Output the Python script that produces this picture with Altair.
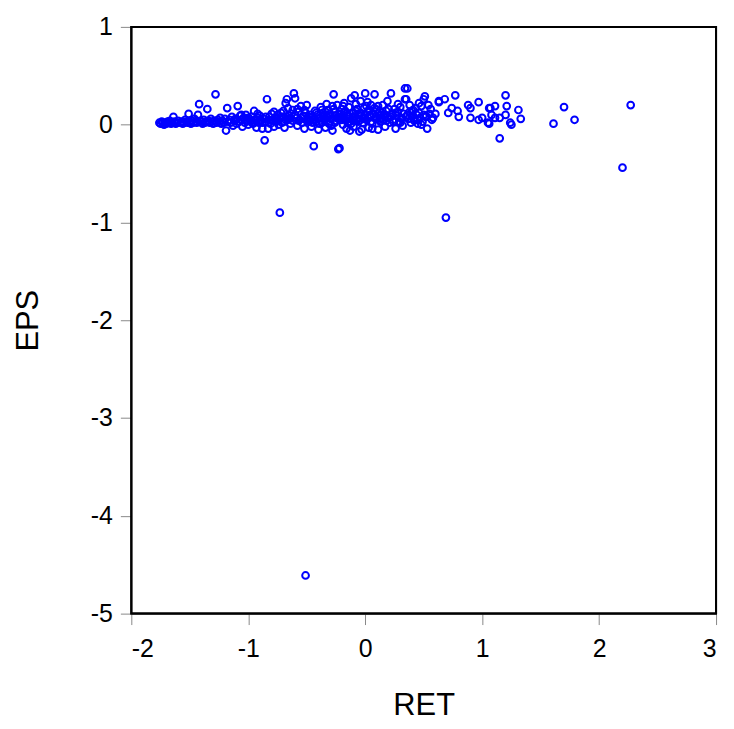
import altair as alt
import pandas as pd

# RET (x) and EPS (y) values
ret_values = [
    # left thin band
    -1.76, -1.75, -1.74, -1.73, -1.72, -1.71, -1.70, -1.69, -1.68, -1.67,
    -1.66, -1.65, -1.64, -1.63, -1.62, -1.61, -1.60, -1.58, -1.57, -1.56,
    -1.55, -1.54, -1.53, -1.52, -1.51, -1.50, -1.49, -1.48, -1.47, -1.46,
    -1.45, -1.44, -1.43, -1.42, -1.41, -1.40, -1.39, -1.38, -1.37, -1.36,
    -1.35, -1.34, -1.33, -1.32, -1.31, -1.30, -1.29, -1.28, -1.27, -1.26,
    -1.25, -1.24, -1.23, -1.22, -1.21, -1.20, -1.19, -1.18, -1.17, -1.16,
    # middle-left band
    -1.15, -1.14, -1.13, -1.12, -1.11, -1.10, -1.09, -1.08, -1.07, -1.06,
    -1.05, -1.04, -1.03, -1.02, -1.01, -1.00, -0.99, -0.98, -0.97, -0.96,
    -0.95, -0.94, -0.93, -0.92, -0.91, -0.90, -0.89, -0.88, -0.87, -0.86,
    -0.85, -0.84, -0.83, -0.82, -0.81, -0.80, -0.79, -0.78, -0.77, -0.76,
    -0.75, -0.74, -0.73, -0.72, -0.71, -0.70, -0.69, -0.68, -0.67, -0.66,
    -0.65, -0.64, -0.63, -0.62, -0.61, -0.60, -0.59, -0.58, -0.57, -0.56,
    -0.55, -0.54, -0.53, -0.52, -0.51, -0.50, -0.49, -0.48, -0.47, -0.46,
    -1.10, -1.00, -0.95, -0.90, -0.85, -0.80, -0.75, -0.70, -0.65, -0.60,
    -0.55, -0.50, -0.62, -0.70, -0.78, -0.92, -1.06, -0.66, -0.58, -0.52,
    # central dense band
    -0.45, -0.44, -0.43, -0.42, -0.41, -0.40, -0.39, -0.38, -0.37, -0.36,
    -0.35, -0.34, -0.33, -0.32, -0.31, -0.30, -0.29, -0.28, -0.27, -0.26,
    -0.25, -0.24, -0.23, -0.22, -0.21, -0.20, -0.19, -0.18, -0.17, -0.16,
    -0.15, -0.14, -0.13, -0.12, -0.11, -0.10, -0.09, -0.08, -0.07, -0.06,
    -0.05, -0.04, -0.03, -0.02, -0.01, 0.00, 0.01, 0.02, 0.03, 0.04,
    0.05, 0.06, 0.07, 0.08, 0.09, 0.10, 0.11, 0.12, 0.13, 0.14,
    -0.45, -0.40, -0.35, -0.30, -0.25, -0.20, -0.15, -0.10, -0.05, 0.00,
    -0.42, -0.37, -0.32, -0.27, -0.22, -0.17, -0.12, -0.07, -0.02, 0.03,
    -0.44, -0.39, -0.34, -0.29, -0.24, -0.19, -0.14, -0.09, -0.04, 0.01,
    -0.33, -0.18, -0.08, 0.02, -0.28, -0.13, -0.03, 0.06, 0.08, 0.11,
    -0.48, -0.43, -0.38, -0.31, -0.26, -0.21, -0.16, -0.11, -0.06, -0.01,
    0.04, 0.09, 0.12, 0.14, -0.36, -0.23, -0.10, 0.05, 0.10, 0.13,
    -0.98, -0.88, -0.82, -0.76, -0.72, -0.68, -0.64, -0.57, -0.53, -0.47,
    # right part of band
    0.15, 0.16, 0.17, 0.18, 0.19, 0.20, 0.21, 0.22, 0.23, 0.24,
    0.25, 0.26, 0.27, 0.28, 0.29, 0.30, 0.31, 0.32, 0.33, 0.34,
    0.34, 0.35, 0.36, 0.37, 0.38, 0.39, 0.40, 0.41, 0.42, 0.43,
    0.44, 0.45, 0.46, 0.47, 0.48, 0.49, 0.50, 0.51, 0.52, 0.53,
    0.54, 0.55, 0.56, 0.57, 0.58, 0.60, 0.18, 0.22, 0.26, 0.30,
    0.35, 0.40, 0.45, 0.50, 0.20, 0.28, 0.38, 0.46, 0.15, 0.48,
    0.17, 0.24, 0.31, 0.36, 0.42, 0.52,
    # sparse right tail
    0.63, 0.63, 0.68, 0.71, 0.74, 0.77, 0.79, 0.80, 0.88, 0.90,
    0.90, 0.97, 0.97, 1.00, 1.05, 1.06, 1.06, 1.07, 1.08, 1.11,
    1.11, 1.15, 1.15, 1.20, 1.20, 1.21, 1.24, 1.25, 1.31, 1.33,
    1.61, 1.70, 1.79, 2.27, 2.20,
    # outliers
    -0.51, -0.73, 0.69,
]

eps_values = [
    0.02, 0.01, 0.03, 0.02, 0.00, 0.02, 0.01, 0.03, 0.02, 0.04,
    0.01, 0.02, 0.08, 0.03, 0.01, 0.02, 0.04, 0.02, 0.03, 0.01,
    0.02, 0.05, 0.03, 0.02, 0.11, 0.03, 0.01, 0.04, 0.02, 0.06,
    0.03, 0.02, 0.10, 0.21, 0.04, 0.03, 0.01, 0.05, 0.02, 0.03,
    0.16, 0.04, 0.02, 0.06, 0.03, 0.01, 0.04, 0.31, 0.02, 0.05,
    0.03, 0.07, 0.01, 0.04, 0.02, 0.06, -0.06, 0.17, 0.03, 0.05,
    0.02, 0.08, -0.01, 0.04, 0.06, 0.01, 0.19, 0.03, 0.09, 0.05,
    -0.02, 0.07, 0.02, 0.10, 0.04, 0.00, 0.06, 0.03, 0.08, 0.01,
    0.14, 0.05, -0.03, 0.07, 0.02, 0.09, 0.04, -0.04, 0.06, -0.16,
    0.03, 0.26, -0.04, 0.08, 0.01, 0.11, 0.05, -0.02, 0.07, 0.03,
    0.10, 0.00, 0.06, 0.12, 0.02, 0.08, -0.03, 0.22, 0.26, 0.05,
    0.09, 0.01, 0.11, 0.04, 0.32, 0.27, 0.07, -0.01, 0.13, 0.05,
    0.19, 0.02, 0.09, -0.04, 0.12, 0.20, 0.06, 0.03, 0.10, -0.02,
    0.05, 0.07, 0.02, 0.05, 0.08, 0.04, 0.06, 0.03, 0.06, 0.10,
    0.07, 0.04, 0.15, 0.14, 0.13, 0.11, 0.10, 0.17, 0.16, 0.15,
    0.08, -0.22, 0.14, 0.03, 0.10, -0.05, 0.07, 0.18, 0.02, 0.12,
    0.05, -0.03, 0.09, 0.15, 0.01, 0.11, 0.06, -0.06, 0.31, 0.13,
    0.04, 0.20, -0.25, -0.24, 0.08, 0.16, 0.00, 0.12, 0.05, -0.04,
    0.10, 0.18, 0.03, 0.27, 0.07, -0.02, 0.30, 0.14, 0.06, 0.11,
    -0.07, 0.24, 0.09, 0.02, 0.17, 0.32, 0.05, 0.13, -0.03, 0.08,
    0.20, 0.01, 0.11, 0.31, 0.06, 0.15, -0.05, 0.09, 0.03, 0.12,
    0.02, 0.06, 0.10, 0.03, 0.09, 0.05, 0.02, 0.08, 0.04, 0.10,
    0.12, 0.15, 0.07, 0.16, 0.11, 0.14, 0.01, 0.16, 0.07, 0.15,
    0.05, 0.01, 0.13, -0.01, 0.07, 0.19, 0.06, 0.04, 0.12, 0.19,
    0.21, 0.22, 0.21, 0.23, 0.19, -0.06, -0.05, -0.04, 0.17, 0.19,
    0.08, 0.06, 0.04, 0.09, 0.02, 0.07, 0.09, 0.05, 0.03, 0.06,
    0.10, 0.08, 0.05, 0.07, 0.09, 0.06, 0.12, 0.03, 0.07, 0.10,
    0.04, 0.02, 0.05, 0.04, 0.08, 0.05, 0.07, 0.04, 0.08, 0.05,
    0.05, 0.10, -0.02, 0.14, 0.24, 0.07, 0.02, 0.32, 0.11, 0.05,
    0.16, -0.04, 0.09, 0.13, 0.03, 0.18, 0.07, -0.01, 0.11, 0.37,
    0.26, 0.26, 0.37, 0.06, 0.13, 0.02, 0.09, 0.15, 0.04, 0.17,
    0.10, 0.01, 0.12, 0.07, 0.19, 0.03, 0.26, 0.29, 0.08, -0.04,
    0.20, 0.11, 0.16, 0.05, 0.07, 0.11, 0.04, 0.08, 0.12, 0.02,
    0.08, 0.14, 0.05, 0.10, 0.16, 0.21, 0.20, 0.22, 0.20, 0.00,
    0.08, 0.03, 0.06, 0.10, 0.06, 0.09,
    0.23, 0.24, 0.26, 0.12, 0.17, 0.30, 0.14, 0.08, 0.20, 0.17,
    0.07, 0.23, 0.05, 0.07, 0.02, 0.17, 0.01, 0.17, 0.10, 0.19,
    0.07, 0.07, -0.14, 0.30, 0.10, 0.19, 0.02, 0.00, 0.15, 0.06,
    0.01, 0.18, 0.05, 0.20, -0.44,
    -4.61, -0.90, -0.95,
]

x_ticks = [-2, -1, 0, 1, 2, 3]
y_ticks = [1, 0, -1, -2, -3, -4, -5]

df = pd.DataFrame({"RET": ret_values, "EPS": eps_values})

font = "Liberation Sans"
W, H = 588, 590

points = alt.Chart(df).mark_point(
    shape="circle", filled=False, color="#0000FF", size=46, strokeWidth=2, opacity=1
).encode(
    x=alt.X("RET:Q",
            scale=alt.Scale(domain=[-2, 3], nice=False, zero=False),
            axis=alt.Axis(values=x_ticks, title="RET", grid=False,
                          labelExpr="'' + datum.value",
                          labelFontSize=25, titleFontSize=31, titleFontWeight="normal",
                          labelPadding=12, titlePadding=29, tickSize=11)),
    y=alt.Y("EPS:Q",
            scale=alt.Scale(domain=[-5, 1], nice=False, zero=False),
            axis=alt.Axis(values=y_ticks, title="EPS", grid=False,
                          labelExpr="'' + datum.value",
                          labelFontSize=25, titleFontSize=31, titleFontWeight="normal",
                          labelPadding=8, titlePadding=46, tickSize=11)),
)

frame = alt.Chart(df).mark_rect(fill=None, stroke="black", strokeWidth=2).encode(
    x=alt.value(0), x2=alt.value(W), y=alt.value(0), y2=alt.value(H)
).transform_filter("datum.RET == -0.51")

chart = alt.layer(points, frame).properties(
    width=W, height=H,
    autosize=alt.AutoSizeParams(type="none"),
    padding={"left": 124, "top": 17, "right": 10, "bottom": 106},
).configure_view(
    stroke=None
).configure_axis(
    domainColor="black", domainWidth=2, tickColor="black", tickWidth=2,
    labelColor="black", titleColor="black", labelFont=font, titleFont=font,
).configure(background="white")

chart.save("out.html", embed_options={"renderer": "svg", "actions": False})
